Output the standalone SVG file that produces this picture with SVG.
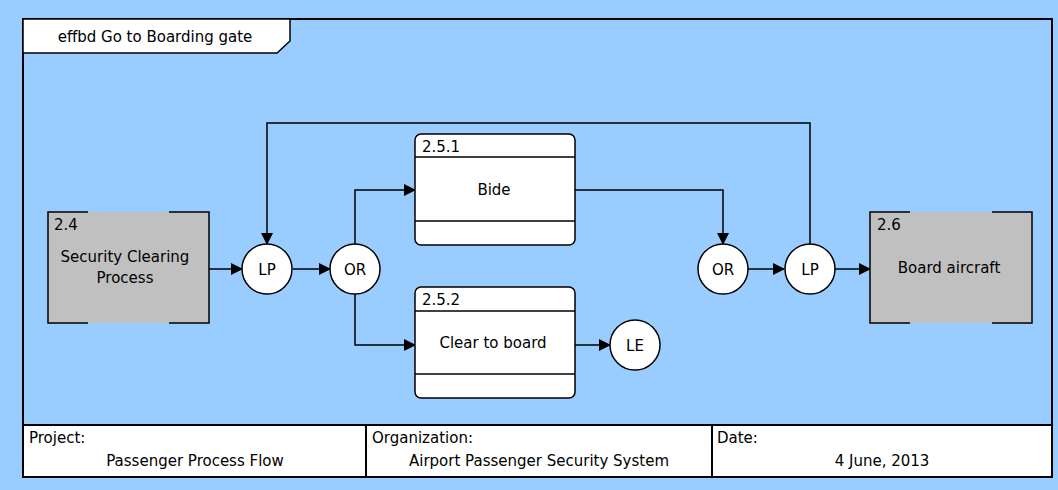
<svg xmlns="http://www.w3.org/2000/svg" width="1058" height="490" viewBox="0 0 1058 490">
  <defs>
    <marker id="arrow" markerUnits="userSpaceOnUse" markerWidth="12" markerHeight="12" refX="11" refY="6" orient="auto">
      <path d="M0,0 L12,6 L0,12 z" fill="#000"/>
    </marker>
    <style>
      text { font-family: "DejaVu Sans", "Liberation Sans", sans-serif; font-size: 15px; fill: #000; }
      .c { text-anchor: middle; }
      .func { fill: #fff; stroke: #000; stroke-width: 1.5; }
      .ext { fill: #C0C0C0; stroke: none; }
      .edge { stroke: #000; stroke-width: 1.5; fill: none; }
      .node-circle { fill: #fff; stroke: #000; stroke-width: 1.5; }
      .conn { stroke: #000; stroke-width: 1.5; fill: none; marker-end: url(#arrow); }
      .cell { fill: #fff; stroke: #000; stroke-width: 2; }
    </style>
  </defs>

  <!-- background -->
  <rect x="0" y="0" width="1058" height="490" fill="#99CCFF"/>

  <!-- diagram frame -->
  <g id="frame">
    <rect x="24" y="20" width="1029" height="458" fill="#5a7fa6" opacity="0.4"/>
    <rect x="23" y="19" width="1029" height="458" fill="#99CCFF" stroke="#000" stroke-width="2"/>
    <path d="M23,19 L290,19 L290,41 L277,53 L23,53 z" fill="#fff" stroke="#000" stroke-width="1.5"/>
    <text class="c" x="155" y="42">effbd Go to Boarding gate</text>
  </g>

  <!-- connectors -->
  <g id="connectors">
    <line class="conn" x1="209" y1="269" x2="242" y2="269"/>
    <line class="conn" x1="293" y1="269" x2="330" y2="269"/>
    <polyline class="conn" points="355,244 355,190 415,190"/>
    <polyline class="conn" points="355,294 355,345 415,345"/>
    <line class="conn" x1="575" y1="345" x2="610" y2="345"/>
    <polyline class="conn" points="575,190 723,190 723,244"/>
    <line class="conn" x1="748" y1="269" x2="784" y2="269"/>
    <line class="conn" x1="835" y1="269" x2="870" y2="269"/>
    <polyline class="conn" points="810,244 810,123 267,123 267,244"/>
  </g>

  <!-- 2.4 external function -->
  <g id="node-2-4">
    <rect class="ext" x="48" y="212" width="161" height="111"/>
    <path class="edge" d="M88,212 L48,212 L48,323 L88,323 M169,212 L209,212 L209,323 L169,323"/>
    <text x="54" y="230">2.4</text>
    <text class="c" x="125" y="262">Security Clearing</text>
    <text class="c" x="125" y="283">Process</text>
  </g>

  <g id="node-lp1">
    <circle class="node-circle" cx="267" cy="269" r="25"/>
    <text class="c" x="267" y="275">LP</text>
  </g>

  <g id="node-or1">
    <circle class="node-circle" cx="355" cy="269" r="25"/>
    <text class="c" x="355" y="275">OR</text>
  </g>

  <!-- 2.5.1 -->
  <g id="node-2-5-1">
    <rect class="func" x="415" y="134" width="160" height="111" rx="6"/>
    <line class="edge" x1="415" y1="157" x2="575" y2="157"/>
    <line class="edge" x1="415" y1="221" x2="575" y2="221"/>
    <text x="422" y="152">2.5.1</text>
    <text class="c" x="494" y="195">Bide</text>
  </g>

  <!-- 2.5.2 -->
  <g id="node-2-5-2">
    <rect class="func" x="415" y="287" width="160" height="111" rx="6"/>
    <line class="edge" x1="415" y1="311" x2="575" y2="311"/>
    <line class="edge" x1="415" y1="374" x2="575" y2="374"/>
    <text x="422" y="305">2.5.2</text>
    <text class="c" x="493" y="348">Clear to board</text>
  </g>

  <g id="node-le">
    <circle class="node-circle" cx="635" cy="345" r="25"/>
    <text class="c" x="635" y="351">LE</text>
  </g>

  <g id="node-or2">
    <circle class="node-circle" cx="723" cy="269" r="25"/>
    <text class="c" x="723" y="275">OR</text>
  </g>

  <g id="node-lp2">
    <circle class="node-circle" cx="810" cy="269" r="25"/>
    <text class="c" x="810" y="275">LP</text>
  </g>

  <!-- 2.6 external function -->
  <g id="node-2-6">
    <rect class="ext" x="870" y="212" width="162" height="111"/>
    <path class="edge" d="M910,212 L870,212 L870,323 L910,323 M992,212 L1032,212 L1032,323 L992,323"/>
    <text x="877" y="230">2.6</text>
    <text class="c" x="949" y="273">Board aircraft</text>
  </g>

  <!-- title block -->
  <g id="title-block">
    <rect class="cell" x="23" y="425" width="343" height="52"/>
    <rect class="cell" x="366" y="425" width="346" height="52"/>
    <rect class="cell" x="712" y="425" width="340" height="52"/>
    <text x="29" y="443">Project:</text>
    <text class="c" x="195" y="466">Passenger Process Flow</text>
    <text x="372" y="443">Organization:</text>
    <text class="c" x="539" y="466">Airport Passenger Security System</text>
    <text x="717" y="443">Date:</text>
    <text class="c" x="882" y="466">4 June, 2013</text>
  </g>
</svg>
